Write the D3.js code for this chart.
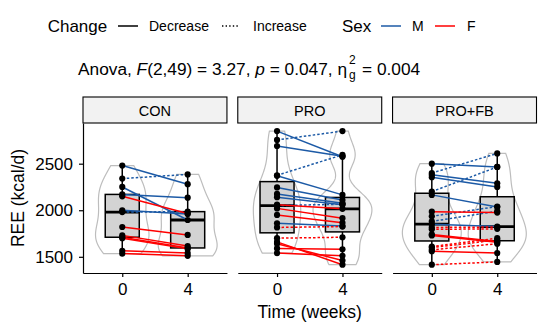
<!DOCTYPE html>
<html>
<head>
<meta charset="utf-8">
<script src="https://cdn.jsdelivr.net/npm/d3@7"></script>
<style>
  body { margin: 0; background: #fff; }
  svg { display: block; font-family: "Liberation Sans", Arial, sans-serif; }
</style>
</head>
<body>
<div id="chart"></div>
<script>
// facets, times and axis ticks
const panels = ["CON", "PRO", "PRO+FB"];
const timeLabels = ["0", "4"];
const yTicks = [1500, 2000, 2500];

// REE (kcal/d) per subject: week 0, week 4, sex
const conWeek0 = [2480, 2340, 2250, 2170, 2000, 1980, 2150, 1820, 1730, 1710, 1700, 1565, 1535];
const conWeek4 = [2280, 2385, 1895, 2135, 1960, 1985, 1965, 1735, 1615, 1595, 1585, 1540, 1510];
const conSex   = ["M", "M", "M", "M", "M", "M", "F", "F", "F", "F", "F", "F", "F"];

const proWeek0 = [2850, 2755, 2690, 2375, 2370, 2245, 2175, 2140, 2050, 1860, 2060, 2020, 1950, 1815, 1700, 1660, 1640, 1590, 1540];
const proWeek4 = [2575, 2850, 2580, 2595, 2165, 2110, 2075, 2060, 2065, 1830, 2015, 1915, 1865, 1825, 1710, 1415, 1460, 1580, 1510];
const proSex   = ["M", "M", "M", "M", "M", "M", "M", "M", "M", "M", "F", "F", "F", "F", "F", "F", "F", "F", "F"];

const fbWeek0 = [2500, 2400, 2380, 2355, 2200, 2165, 1935, 1880, 1850, 1985, 1815, 1795, 1740, 1730, 1610, 1600, 1575, 1560, 1415];
const fbWeek4 = [2465, 2610, 2290, 2250, 2465, 2035, 2040, 1990, 1825, 1975, 1820, 1800, 1665, 1655, 1700, 1680, 1640, 1540, 1445];
const fbSex   = ["M", "M", "M", "M", "M", "M", "M", "M", "M", "F", "F", "F", "F", "F", "F", "F", "F", "F", "F"];

const groups = [
    {name: "CON", w0: conWeek0, w4: conWeek4, sex: conSex},
    {name: "PRO", w0: proWeek0, w4: proWeek4, sex: proSex},
    {name: "PRO+FB", w0: fbWeek0, w4: fbWeek4, sex: fbSex}
];

const sexColor = {M: "#1c5aa6", F: "#ff0000"};

const width = 550, height = 329;
const svg = d3.select("#chart").append("svg")
    .attr("width", width)
    .attr("height", height);

const fx = d3.scaleBand().domain(panels).range([83, 536.5]).paddingInner(0.07);
const x = d3.scalePoint().domain(timeLabels).range([0, fx.bandwidth()]).padding(0.6);
const y = d3.scaleLinear().domain([1326, 2937]).range([273, 123]);

// gaussian kde, bw.nrd0, trimmed to data range
function kde(values) {
    const s = values.slice().sort(d3.ascending);
    const n = s.length;
    const iqr = d3.quantile(s, 0.75) - d3.quantile(s, 0.25);
    const bw = 0.9 * Math.min(d3.deviation(s), iqr / 1.34) * Math.pow(n, -0.2);
    const lo = s[0], hi = s[n - 1];
    return d3.range(512).map(function (i) {
        const v = lo + (hi - lo) * i / 511;
        const d = d3.mean(s, t => Math.exp(-0.5 * ((v - t) / bw) ** 2)) / (bw * Math.sqrt(2 * Math.PI));
        return [v, d];
    });
}

function boxStats(values) {
    const s = values.slice().sort(d3.ascending);
    const q1 = d3.quantile(s, 0.25), med = d3.quantile(s, 0.5), q3 = d3.quantile(s, 0.75);
    const iqr = q3 - q1;
    const lo = d3.min(s.filter(v => v >= q1 - 1.5 * iqr));
    const hi = d3.max(s.filter(v => v <= q3 + 1.5 * iqr));
    return {q1, med, q3, lo, hi};
}

groups.forEach(function (g) {
    const panel = svg.append("g").attr("transform", `translate(${fx(g.name)},0)`);
    const series = [g.w0, g.w4];

    // strip
    panel.append("rect")
        .attr("x", 0).attr("y", 97)
        .attr("width", fx.bandwidth()).attr("height", 26)
        .attr("fill", "#f2f2f2").attr("stroke", "black").attr("stroke-width", 1.1);
    panel.append("text")
        .attr("x", fx.bandwidth() / 2).attr("y", 110.5).attr("dy", "0.35em")
        .attr("text-anchor", "middle").attr("font-size", 14.5)
        .text(g.name);

    // violins
    const dens = series.map(kde);
    const maxD = d3.max(dens, d => d3.max(d, e => e[1]));
    const half = 0.45 * x.step();
    dens.forEach(function (d, i) {
        const cx = x(timeLabels[i]);
        panel.append("path")
            .datum(d)
            .attr("d", d3.area()
                .x0(e => cx - e[1] / maxD * half)
                .x1(e => cx + e[1] / maxD * half)
                .y(e => y(e[0])))
            .attr("fill", "none").attr("stroke", "#bdbdbd").attr("stroke-width", 1.2);
    });

    // boxplots
    const bw = 0.52 * x.step();
    series.forEach(function (vals, i) {
        const st = boxStats(vals);
        const cx = x(timeLabels[i]);
        const b = panel.append("g");
        b.append("line").attr("x1", cx).attr("x2", cx).attr("y1", y(st.hi)).attr("y2", y(st.q3))
            .attr("stroke", "black").attr("stroke-width", 1.5);
        b.append("line").attr("x1", cx).attr("x2", cx).attr("y1", y(st.q1)).attr("y2", y(st.lo))
            .attr("stroke", "black").attr("stroke-width", 1.5);
        b.append("rect")
            .attr("x", cx - bw / 2).attr("y", y(st.q3))
            .attr("width", bw).attr("height", y(st.q1) - y(st.q3))
            .attr("fill", "#d3d3d3").attr("stroke", "black").attr("stroke-width", 1.5);
        b.append("line").attr("x1", cx - bw / 2).attr("x2", cx + bw / 2)
            .attr("y1", y(st.med)).attr("y2", y(st.med))
            .attr("stroke", "black").attr("stroke-width", 2.8);
    });

    // paired lines
    const subj = g.w0.map((v, i) => ({w0: v, w4: g.w4[i], sex: g.sex[i]}));
    panel.selectAll(".pair").data(subj).enter()
        .append("line")
        .attr("class", "pair")
        .attr("x1", x("0")).attr("x2", x("4"))
        .attr("y1", d => y(d.w0)).attr("y2", d => y(d.w4))
        .attr("stroke", d => sexColor[d.sex])
        .attr("stroke-width", 1.5)
        .attr("stroke-dasharray", d => d.w4 > d.w0 ? "2.5,2" : null);

    // points
    const pts = [];
    subj.forEach(d => { pts.push([x("0"), d.w0]); pts.push([x("4"), d.w4]); });
    panel.selectAll(".pt").data(pts).enter()
        .append("circle")
        .attr("class", "pt")
        .attr("cx", d => d[0]).attr("cy", d => y(d[1]))
        .attr("r", 3.1).attr("fill", "black");

    // x axis
    const ax = panel.append("g")
        .attr("transform", "translate(0,273)")
        .call(d3.axisBottom(x).tickSize(4).tickSizeOuter(0).tickPadding(6));
    ax.attr("font-family", null).attr("font-size", 17);
    ax.selectAll("path, line").attr("stroke-width", 1.2);
    ax.selectAll("text").attr("fill", "black");
});

// y axis on first panel
const ay = svg.append("g")
    .attr("transform", `translate(${fx("CON")},0)`)
    .call(d3.axisLeft(y).tickValues(yTicks).tickFormat(d3.format("d"))
        .tickSize(4).tickSizeOuter(0).tickPadding(6));
ay.attr("font-family", null).attr("font-size", 17);
ay.selectAll("path, line").attr("stroke-width", 1.2);
ay.selectAll("text").attr("fill", "black");

// axis titles
svg.append("text")
    .attr("x", (83 + 536.5) / 2).attr("y", 318)
    .attr("text-anchor", "middle").attr("font-size", 17.5)
    .text("Time (weeks)");
svg.append("text")
    .attr("transform", "translate(24,198) rotate(-90)")
    .attr("text-anchor", "middle").attr("font-size", 17.5)
    .text("REE (kcal/d)");

// subtitle
const sub = svg.append("text").attr("x", 78).attr("y", 75).attr("font-size", 17.3);
sub.append("tspan").text("Anova, ");
sub.append("tspan").attr("font-style", "italic").text("F");
sub.append("tspan").text("(2,49) = 3.27, ");
sub.append("tspan").attr("font-style", "italic").text("p");
sub.append("tspan").text(" = 0.047, \u03B7");
const subEnd = 78 + sub.node().getComputedTextLength();
svg.append("text").attr("x", subEnd + 2).attr("y", 64).attr("font-size", 12).text("2");
svg.append("text").attr("x", subEnd + 2).attr("y", 79).attr("font-size", 12).text("g");
svg.append("text").attr("x", subEnd + 15).attr("y", 75).attr("font-size", 17.3).text("= 0.004");

// legend
const leg = svg.append("g");
const legY = 26;
leg.append("text").attr("x", 47.7).attr("y", legY).attr("dy", "0.35em").attr("font-size", 17).text("Change");
leg.append("line").attr("x1", 118).attr("x2", 138).attr("y1", legY).attr("y2", legY)
    .attr("stroke", "black").attr("stroke-width", 1.5);
leg.append("text").attr("x", 149).attr("y", legY).attr("dy", "0.35em").attr("font-size", 14).text("Decrease");
leg.append("line").attr("x1", 222).attr("x2", 240).attr("y1", legY).attr("y2", legY)
    .attr("stroke", "black").attr("stroke-width", 1.5).attr("stroke-dasharray", "1.4,2.2");
leg.append("text").attr("x", 253).attr("y", legY).attr("dy", "0.35em").attr("font-size", 14).text("Increase");
leg.append("text").attr("x", 342).attr("y", legY).attr("dy", "0.35em").attr("font-size", 17).text("Sex");
leg.append("line").attr("x1", 381).attr("x2", 401).attr("y1", legY).attr("y2", legY)
    .attr("stroke", sexColor.M).attr("stroke-width", 1.5);
leg.append("text").attr("x", 412).attr("y", legY).attr("dy", "0.35em").attr("font-size", 14).text("M");
leg.append("line").attr("x1", 435).attr("x2", 455).attr("y1", legY).attr("y2", legY)
    .attr("stroke", sexColor.F).attr("stroke-width", 1.5);
leg.append("text").attr("x", 467).attr("y", legY).attr("dy", "0.35em").attr("font-size", 14).text("F");
</script>
</body>
</html>
